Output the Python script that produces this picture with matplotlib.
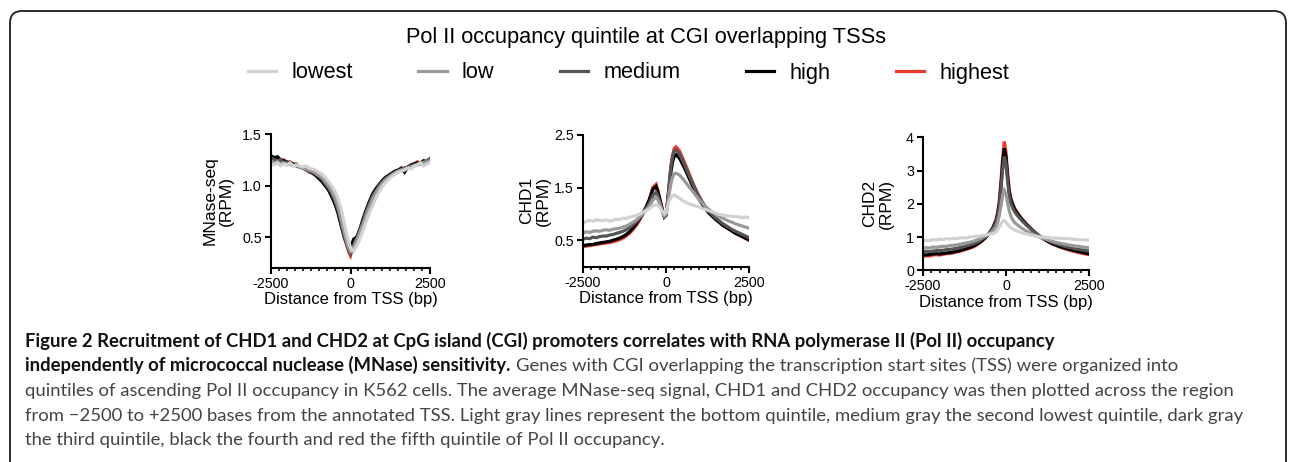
import matplotlib
matplotlib.use('Agg')
import matplotlib.pyplot as plt
from matplotlib.patches import FancyBboxPatch
from matplotlib.ticker import MultipleLocator

plt.rcParams['font.family'] = ['Liberation Sans', 'DejaVu Sans']
plt.rcParams['axes.unicode_minus'] = False

# ---------------- data ----------------
distance = [-2500, -2400, -2300, -2200, -2100, -2000, -1900, -1800, -1700, -1600,
            -1500, -1400, -1300, -1200, -1100, -1000, -900, -800, -700, -600,
            -500, -400, -300,
            -250, -200, -150, -100, -50, 0, 50, 100, 150, 200, 250,
            300, 400, 500, 600, 700, 800, 900, 1000, 1100, 1200,
            1300, 1400, 1500, 1600, 1700, 1800, 1900, 2000, 2100, 2200, 2300, 2400, 2500]

quintiles = ['lowest', 'low', 'medium', 'high', 'highest']
colors = ['#d2d2d2', '#999999', '#555555', '#000000', '#e8392c']

mnase_lowest = [1.21, 1.20, 1.22, 1.19, 1.21, 1.20, 1.22, 1.19, 1.20, 1.19,
                1.18, 1.19, 1.17, 1.16, 1.15, 1.13, 1.11, 1.08, 1.04, 1.00,
                0.95, 0.88, 0.78,
                0.71, 0.64, 0.57, 0.50, 0.45, 0.40, 0.37, 0.36, 0.39, 0.42, 0.45,
                0.49, 0.57, 0.66, 0.74, 0.81, 0.88, 0.94, 0.99, 1.03, 1.06,
                1.09, 1.11, 1.13, 1.14, 1.15, 1.17, 1.16, 1.19, 1.20, 1.22, 1.19, 1.21, 1.22]
mnase_low = [1.24, 1.22, 1.23, 1.21, 1.22, 1.20, 1.21, 1.19, 1.20, 1.18,
             1.17, 1.16, 1.15, 1.14, 1.12, 1.10, 1.08, 1.04, 1.00, 0.95,
             0.89, 0.80, 0.68,
             0.61, 0.55, 0.49, 0.43, 0.39, 0.36, 0.38, 0.40, 0.44, 0.47, 0.51,
             0.55, 0.63, 0.72, 0.80, 0.87, 0.93, 0.98, 1.02, 1.05, 1.08,
             1.10, 1.12, 1.14, 1.15, 1.16, 1.17, 1.18, 1.19, 1.20, 1.21, 1.22, 1.23, 1.24]
mnase_medium = [1.27, 1.25, 1.24, 1.25, 1.22, 1.23, 1.21, 1.20, 1.19, 1.18,
                1.17, 1.15, 1.14, 1.13, 1.11, 1.09, 1.06, 1.02, 0.98, 0.93,
                0.86, 0.77, 0.65,
                0.58, 0.52, 0.46, 0.41, 0.37, 0.34, 0.38, 0.42, 0.46, 0.49, 0.53,
                0.57, 0.66, 0.75, 0.83, 0.90, 0.95, 1.00, 1.04, 1.07, 1.09,
                1.11, 1.13, 1.14, 1.16, 1.17, 1.18, 1.19, 1.20, 1.21, 1.22, 1.23, 1.24, 1.26]
mnase_high = [1.29, 1.27, 1.28, 1.25, 1.24, 1.23, 1.22, 1.21, 1.20, 1.18,
              1.17, 1.16, 1.14, 1.12, 1.10, 1.07, 1.04, 1.00, 0.96, 0.90,
              0.83, 0.74, 0.62,
              0.56, 0.50, 0.46, 0.44, 0.40, 0.36, 0.44, 0.48, 0.49, 0.50, 0.54,
              0.58, 0.68, 0.77, 0.85, 0.92, 0.97, 1.01, 1.05, 1.08, 1.10,
              1.12, 1.14, 1.15, 1.17, 1.13, 1.18, 1.20, 1.21, 1.22, 1.21, 1.24, 1.23, 1.26]
mnase_highest = [1.28, 1.26, 1.27, 1.24, 1.25, 1.22, 1.23, 1.20, 1.21, 1.18,
                 1.17, 1.16, 1.13, 1.13, 1.10, 1.08, 1.05, 1.01, 0.97, 0.91,
                 0.84, 0.75, 0.63,
                 0.57, 0.51, 0.45, 0.40, 0.35, 0.32, 0.38, 0.44, 0.47, 0.50, 0.54,
                 0.58, 0.67, 0.76, 0.84, 0.91, 0.96, 1.00, 1.04, 1.07, 1.09,
                 1.11, 1.13, 1.15, 1.16, 1.17, 1.18, 1.19, 1.21, 1.23, 1.22, 1.24, 1.23, 1.25]

chd1_lowest = [0.82, 0.86, 0.88, 0.86, 0.89, 0.88, 0.87, 0.89, 0.86, 0.88,
               0.90, 0.89, 0.92, 0.91, 0.94, 0.95, 0.97, 0.99, 1.03, 1.06,
               1.10, 1.15, 1.18,
               1.16, 1.13, 1.09, 1.04, 1.00, 1.03, 1.14, 1.25, 1.31, 1.34, 1.36,
               1.34, 1.30, 1.25, 1.22, 1.19, 1.17, 1.15, 1.13, 1.10, 1.08,
               1.06, 1.04, 1.01, 0.99, 0.98, 0.97, 0.96, 0.95, 0.95, 0.94, 0.93, 0.94, 0.93]
chd1_low = [0.64, 0.66, 0.65, 0.67, 0.68, 0.67, 0.69, 0.70, 0.69, 0.71,
            0.72, 0.73, 0.75, 0.77, 0.80, 0.84, 0.88, 0.94, 1.00, 1.07,
            1.15, 1.26, 1.32,
            1.28, 1.21, 1.12, 1.03, 0.96, 0.99, 1.18, 1.40, 1.58, 1.70, 1.76,
            1.77, 1.74, 1.67, 1.59, 1.51, 1.43, 1.35, 1.27, 1.20, 1.13,
            1.08, 1.03, 0.99, 0.95, 0.92, 0.89, 0.86, 0.84, 0.81, 0.79, 0.77, 0.75, 0.73]
chd1_medium = [0.52, 0.54, 0.53, 0.56, 0.55, 0.57, 0.58, 0.58, 0.60, 0.61,
               0.63, 0.65, 0.67, 0.70, 0.74, 0.79, 0.85, 0.92, 1.01, 1.10,
               1.21, 1.35, 1.41,
               1.35, 1.25, 1.14, 1.03, 0.95, 0.98, 1.24, 1.58, 1.90, 2.09, 2.19,
               2.21, 2.14, 2.01, 1.87, 1.72, 1.58, 1.44, 1.32, 1.21, 1.12,
               1.04, 0.98, 0.92, 0.87, 0.82, 0.78, 0.74, 0.70, 0.67, 0.64, 0.61, 0.58, 0.55]
chd1_high = [0.40, 0.41, 0.42, 0.42, 0.44, 0.45, 0.46, 0.47, 0.48, 0.50,
             0.52, 0.54, 0.57, 0.61, 0.66, 0.73, 0.81, 0.90, 1.01, 1.13,
             1.27, 1.46, 1.52,
             1.43, 1.31, 1.18, 1.05, 0.94, 0.97, 1.22, 1.52, 1.80, 1.99, 2.09,
             2.12, 2.06, 1.94, 1.81, 1.67, 1.53, 1.40, 1.28, 1.18, 1.09,
             1.01, 0.95, 0.89, 0.84, 0.79, 0.75, 0.71, 0.67, 0.63, 0.60, 0.57, 0.54, 0.51]
chd1_highest = [0.38, 0.39, 0.40, 0.41, 0.42, 0.43, 0.44, 0.45, 0.46, 0.47,
                0.49, 0.51, 0.54, 0.58, 0.63, 0.70, 0.78, 0.88, 0.99, 1.12,
                1.28, 1.50, 1.56,
                1.46, 1.33, 1.19, 1.06, 0.95, 0.98, 1.25, 1.60, 1.92, 2.12, 2.24,
                2.27, 2.20, 2.06, 1.91, 1.76, 1.60, 1.46, 1.33, 1.22, 1.12,
                1.04, 0.97, 0.91, 0.86, 0.79, 0.75, 0.71, 0.67, 0.63, 0.60, 0.57, 0.53, 0.50]

chd2_lowest = [0.88, 0.90, 0.89, 0.93, 0.91, 0.94, 0.92, 0.95, 0.94, 0.96,
               0.95, 0.97, 0.98, 0.97, 1.00, 1.01, 1.02, 1.03, 1.05, 1.07,
               1.08, 1.10, 1.15,
               1.22, 1.30, 1.40, 1.48, 1.50, 1.45, 1.38, 1.32, 1.28, 1.25, 1.22,
               1.20, 1.16, 1.12, 1.10, 1.07, 1.05, 1.03, 1.01, 1.00, 0.99,
               0.98, 0.97, 0.96, 0.97, 0.95, 0.96, 0.95, 0.94, 0.93, 0.92, 0.91, 0.92, 0.90]
chd2_low = [0.66, 0.68, 0.67, 0.70, 0.69, 0.71, 0.72, 0.72, 0.74, 0.75,
            0.76, 0.78, 0.80, 0.82, 0.84, 0.87, 0.90, 0.94, 0.99, 1.04,
            1.10, 1.18, 1.30,
            1.45, 1.65, 1.95, 2.25, 2.40, 2.30, 2.02, 1.78, 1.62, 1.52, 1.45,
            1.40, 1.32, 1.25, 1.19, 1.14, 1.09, 1.04, 1.00, 0.96, 0.93,
            0.90, 0.87, 0.84, 0.82, 0.80, 0.78, 0.76, 0.74, 0.73, 0.72, 0.70, 0.69, 0.68]
chd2_medium = [0.55, 0.57, 0.56, 0.58, 0.59, 0.60, 0.60, 0.62, 0.63, 0.64,
               0.66, 0.68, 0.70, 0.73, 0.76, 0.79, 0.83, 0.88, 0.95, 1.02,
               1.12, 1.25, 1.43,
               1.62, 1.92, 2.45, 3.05, 3.42, 3.20, 2.65, 2.22, 2.00, 1.88, 1.78,
               1.70, 1.58, 1.47, 1.37, 1.28, 1.19, 1.11, 1.04, 0.98, 0.93,
               0.88, 0.84, 0.80, 0.77, 0.74, 0.71, 0.69, 0.67, 0.64, 0.63, 0.61, 0.59, 0.58]
chd2_high = [0.47, 0.46, 0.48, 0.49, 0.50, 0.49, 0.51, 0.52, 0.53, 0.55,
             0.57, 0.59, 0.62, 0.65, 0.68, 0.72, 0.77, 0.83, 0.91, 1.00,
             1.12, 1.27, 1.48,
             1.70, 2.02, 2.58, 3.25, 3.67, 3.40, 2.80, 2.35, 2.12, 1.98, 1.86,
             1.77, 1.63, 1.51, 1.40, 1.30, 1.20, 1.11, 1.03, 0.96, 0.90,
             0.85, 0.80, 0.76, 0.72, 0.69, 0.66, 0.63, 0.61, 0.58, 0.56, 0.54, 0.52, 0.50]
chd2_highest = [0.42, 0.44, 0.43, 0.46, 0.47, 0.46, 0.48, 0.50, 0.51, 0.52,
                0.55, 0.57, 0.60, 0.63, 0.66, 0.70, 0.75, 0.82, 0.90, 1.00,
                1.12, 1.28, 1.52,
                1.75, 2.10, 2.70, 3.40, 3.87, 3.55, 2.90, 2.40, 2.15, 2.00, 1.88,
                1.80, 1.65, 1.52, 1.41, 1.31, 1.21, 1.12, 1.04, 0.97, 0.91,
                0.84, 0.79, 0.75, 0.71, 0.67, 0.64, 0.61, 0.58, 0.56, 0.53, 0.51, 0.49, 0.47]

panels = [
    dict(series=[mnase_lowest, mnase_low, mnase_medium, mnase_high, mnase_highest],
         ylabel='MNase-seq\n(RPM)', ylim=(0.2, 1.5), yticks=[0.5, 1.0, 1.5],
         yticklabels=['0.5', '1.0', '1.5'], rect_px=(271, 134, 430, 268)),
    dict(series=[chd1_lowest, chd1_low, chd1_medium, chd1_high, chd1_highest],
         ylabel='CHD1\n(RPM)', ylim=(0, 2.5), yticks=[0.5, 1.5, 2.5],
         yticklabels=['0.5', '1.5', '2.5'], rect_px=(583, 134.7, 749, 266.7)),
    dict(series=[chd2_lowest, chd2_low, chd2_medium, chd2_high, chd2_highest],
         ylabel='CHD2\n(RPM)', ylim=(0, 4), yticks=[0, 1, 2, 3, 4],
         yticklabels=['0', '1', '2', '3', '4'], rect_px=(923, 137.3, 1089, 270.3)),
]
xticks = [-2500, 0, 2500]
# right edge (px) of the y-label block for each panel
ylabel_right_px = [234, 551, 894]

W, H = 1290, 462
fig = plt.figure(figsize=(W / 100, H / 100), dpi=100)

def px_rect(x0, y0, x1, y1):
    return [x0 / W, 1 - y1 / H, (x1 - x0) / W, (y1 - y0) / H]

legend_handles = None
for p, yr in zip(panels, ylabel_right_px):
    ax = fig.add_axes(px_rect(*p['rect_px']))
    handles = []
    # draw highest first so lighter lines end on top
    for name, col, ys in reversed(list(zip(quintiles, colors, p['series']))):
        ln, = ax.plot(distance, ys, color=col, lw=2.3, label=name, solid_joinstyle='miter')
        handles.append(ln)
    handles = handles[::-1]
    if legend_handles is None:
        legend_handles = handles
    ax.set_xlim(-2500, 2500)
    ax.set_ylim(*p['ylim'])
    ax.set_xticks(xticks)
    ax.set_xticklabels([str(v) for v in xticks])
    ax.xaxis.set_minor_locator(MultipleLocator(250))
    ax.set_yticks(p['yticks'])
    ax.set_yticklabels(p['yticklabels'])
    for s in ['top', 'right']:
        ax.spines[s].set_visible(False)
    for s in ['left', 'bottom']:
        ax.spines[s].set_linewidth(1.5)
    ax.tick_params(which='major', length=4.5, width=1.5, labelsize=10.3, pad=2)
    ax.tick_params(which='minor', length=2.5, width=1.2)
    ax.set_xlabel('Distance from TSS (bp)', fontsize=12, labelpad=1)
    ax.set_ylabel(p['ylabel'], fontsize=12.5, linespacing=1.15)
    # default y-label anchoring: bottom of the (unrotated) text = right edge on screen
    x_ax = p['rect_px'][0]
    ax.yaxis.set_label_coords(-(x_ax - yr) / (p['rect_px'][2] - x_ax), 0.5)
    ax.patch.set_alpha(0)

# legend
fig.legend(handles=legend_handles, labels=quintiles, loc='center',
           bbox_to_anchor=(628.5 / W, 1 - 73 / H), ncol=5, frameon=False,
           fontsize=15.7, handlelength=1.3, handletextpad=0.7, columnspacing=3.0)
fig.text(646 / W, 1 - 37 / H, 'Pol II occupancy quintile at CGI overlapping TSSs',
         ha='center', va='center', fontsize=15.7)

# frame
box = FancyBboxPatch((0.10, -0.5), (1286 - 10) / 100, 4.51 + 0.5,
                     boxstyle='round,pad=0,rounding_size=0.12',
                     transform=fig.dpi_scale_trans, fill=False,
                     edgecolor='#2a2a2a', lw=1.4)
fig.add_artist(box)

# caption
cap_font = ['Lato', 'DejaVu Sans']
line1 = ('Figure 2 Recruitment of CHD1 and CHD2 at CpG island (CGI) promoters '
         'correlates with RNA polymerase II (Pol II) occupancy')
line2b = 'independently of micrococcal nuclease (MNase) sensitivity.'
line2r = 'Genes with CGI overlapping the transcription start sites (TSS) were organized into'
line3 = ('quintiles of ascending Pol II occupancy in K562 cells. The average MNase-seq signal, '
         'CHD1 and CHD2 occupancy was then plotted across the region')
line4 = ('from \u22122500 to +2500 bases from the annotated TSS. Light gray lines represent the '
         'bottom quintile, medium gray the second lowest quintile, dark gray')
line5 = 'the third quintile, black the fourth and red the fifth quintile of Pol II occupancy.'

renderer = fig.canvas.get_renderer()

def width_px(txt):
    return txt.get_window_extent(renderer).width

x0 = 25
baselines = [346.5, 371.2, 395.9, 420.6, 445.3]
tb = fig.text(x0 / W, 1 - baselines[0] / H, line1, fontsize=14, fontweight='bold',
              family=cap_font, va='baseline', color='#111111')
sb = 14 * (1062 - x0) / width_px(tb)
tb.set_fontsize(sb)
tr = fig.text(x0 / W, 1 - baselines[2] / H, line3, fontsize=14, family=cap_font,
              va='baseline', color='#444444')
sr = 14 * (1232 - x0) / width_px(tr)
tr.set_fontsize(sr)

t2b = fig.text(x0 / W, 1 - baselines[1] / H, line2b, fontsize=sb, fontweight='bold',
               family=cap_font, va='baseline', color='#111111')
bend = x0 + width_px(t2b) + 6
fig.text(bend / W, 1 - baselines[1] / H, line2r, fontsize=sr, family=cap_font,
         va='baseline', color='#444444')
fig.text(x0 / W, 1 - baselines[3] / H, line4, fontsize=sr, family=cap_font,
         va='baseline', color='#444444')
fig.text(x0 / W, 1 - baselines[4] / H, line5, fontsize=sr, family=cap_font,
         va='baseline', color='#444444')

fig.savefig('out.png', dpi=100, facecolor='white')
